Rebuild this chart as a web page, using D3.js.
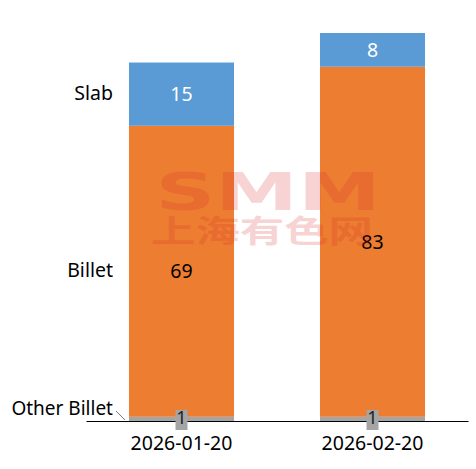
<!DOCTYPE html>
<html>
<head>
<meta charset="utf-8">
<script src="https://cdn.jsdelivr.net/npm/d3@7"></script>
<style>
  body { margin: 0; background: #fff; }
  text { font-family: "Noto Sans", "DejaVu Sans", sans-serif; }
</style>
</head>
<body>
<svg id="chart" width="476" height="469"></svg>
<script>
const categories = ["2026-01-20", "2026-02-20"];
const seriesNames = ["Other Billet", "Billet", "Slab"];
const otherBillet = [1, 1];
const billet = [69, 83];
const slab = [15, 8];
const colors = ["#a5a5a5", "#ed7d31", "#5b9bd5"];

const svg = d3.select("#chart");
const margin = { top: 33, right: 8, bottom: 48, left: 86 };
const width = +svg.attr("width");
const height = +svg.attr("height");
const chartWidth = width - margin.left - margin.right;
const chartHeight = height - margin.top - margin.bottom;

const table = categories.map((c, i) => ({
    cat: c,
    "Other Billet": otherBillet[i],
    "Billet": billet[i],
    "Slab": slab[i]
}));
const stacked = d3.stack().keys(seriesNames)(table);

const x = d3.scaleBand().domain(categories).range([0, chartWidth]).paddingInner(0.45).paddingOuter(0.225);
const y = d3.scaleLinear().domain([0, 92]).range([chartHeight, 0]);

const g = svg.append("g").attr("transform", `translate(${margin.left},${margin.top})`);

// bars
const layers = g.selectAll(".layer")
    .data(stacked)
    .join("g")
    .attr("class", "layer")
    .attr("fill", (d, i) => colors[i]);

layers.selectAll("rect")
    .data(d => d)
    .join("rect")
    .attr("x", d => x(d.data.cat))
    .attr("y", d => y(d[1]))
    .attr("width", x.bandwidth())
    .attr("height", d => y(d[0]) - y(d[1]));

// watermark
const wm = svg.append("g").attr("opacity", 0.2).attr("fill", "#d92b2b");
wm.append("text")
    .attr("x", 268).attr("y", 210)
    .attr("text-anchor", "middle")
    .attr("font-size", 52)
    .attr("font-weight", "900")
    .style("font-family", "'DejaVu Sans', sans-serif")
    .attr("textLength", 225)
    .attr("lengthAdjust", "spacingAndGlyphs")
    .text("SMM");
wm.append("text")
    .attr("x", 262).attr("y", 242)
    .attr("text-anchor", "middle")
    .attr("font-size", 31)
    .attr("font-weight", "bold")
    .style("font-family", "'Noto Sans CJK SC', sans-serif")
    .attr("textLength", 222)
    .attr("lengthAdjust", "spacingAndGlyphs")
    .text("上海有色网");

// axis
const xAxis = d3.axisBottom(x).tickSize(0).tickPadding(15);
const xAxisGroup = g.append("g")
    .attr("transform", `translate(0,${chartHeight})`)
    .call(xAxis);
xAxisGroup.select(".domain").attr("stroke", "#000").attr("stroke-width", 1.2);
xAxisGroup.selectAll(".tick text")
    .attr("font-size", 19.5)
    .attr("fill", "#000")
    .style("font-family", "'Noto Sans', sans-serif");

// value labels
const cx = d => x(d.data.cat) + x.bandwidth() / 2;
stacked.forEach((layer) => {
    if (layer.key === "Other Billet") {
        const lbl = g.append("g").selectAll("g")
            .data(layer)
            .join("g")
            .attr("transform", d => `translate(${cx(d)},${chartHeight - 5})`);
        lbl.append("rect")
            .attr("x", -6).attr("y", -6)
            .attr("width", 12).attr("height", 20)
            .attr("fill", colors[0]);
        lbl.append("text")
            .attr("text-anchor", "middle")
            .attr("dy", "0.35em")
            .attr("y", 2)
            .attr("font-size", 18)
            .attr("fill", "#222")
            .text(d => d[1] - d[0]);
    } else {
        g.append("g").selectAll("text")
            .data(layer)
            .join("text")
            .attr("x", cx)
            .attr("y", d => (y(d[0]) + y(d[1])) / 2)
            .attr("dy", "0.35em")
            .attr("text-anchor", "middle")
            .attr("font-size", 19.5)
            .attr("fill", layer.key === "Slab" ? "#fff" : "#000")
            .text(d => d[1] - d[0]);
    }
});

// series labels on the left of first bar
const labelX = x(categories[0]) - 16;
stacked.forEach((layer) => {
    const d = layer[0];
    let ly = (y(d[0]) + y(d[1])) / 2 - 1;
    if (layer.key === "Other Billet") ly = chartHeight - 13;
    g.append("text")
        .attr("x", labelX)
        .attr("y", ly)
        .attr("dy", "0.35em")
        .attr("text-anchor", "end")
        .attr("font-size", layer.key === "Other Billet" ? 19 : 19.5)
        .attr("fill", "#000")
        .text(layer.key);
});
// leader line for Other Billet
g.append("line")
    .attr("x1", labelX + 3).attr("y1", chartHeight - 10)
    .attr("x2", x(categories[0]) - 4).attr("y2", chartHeight - 1)
    .attr("stroke", "#555").attr("stroke-width", 0.8);
</script>
</body>
</html>
